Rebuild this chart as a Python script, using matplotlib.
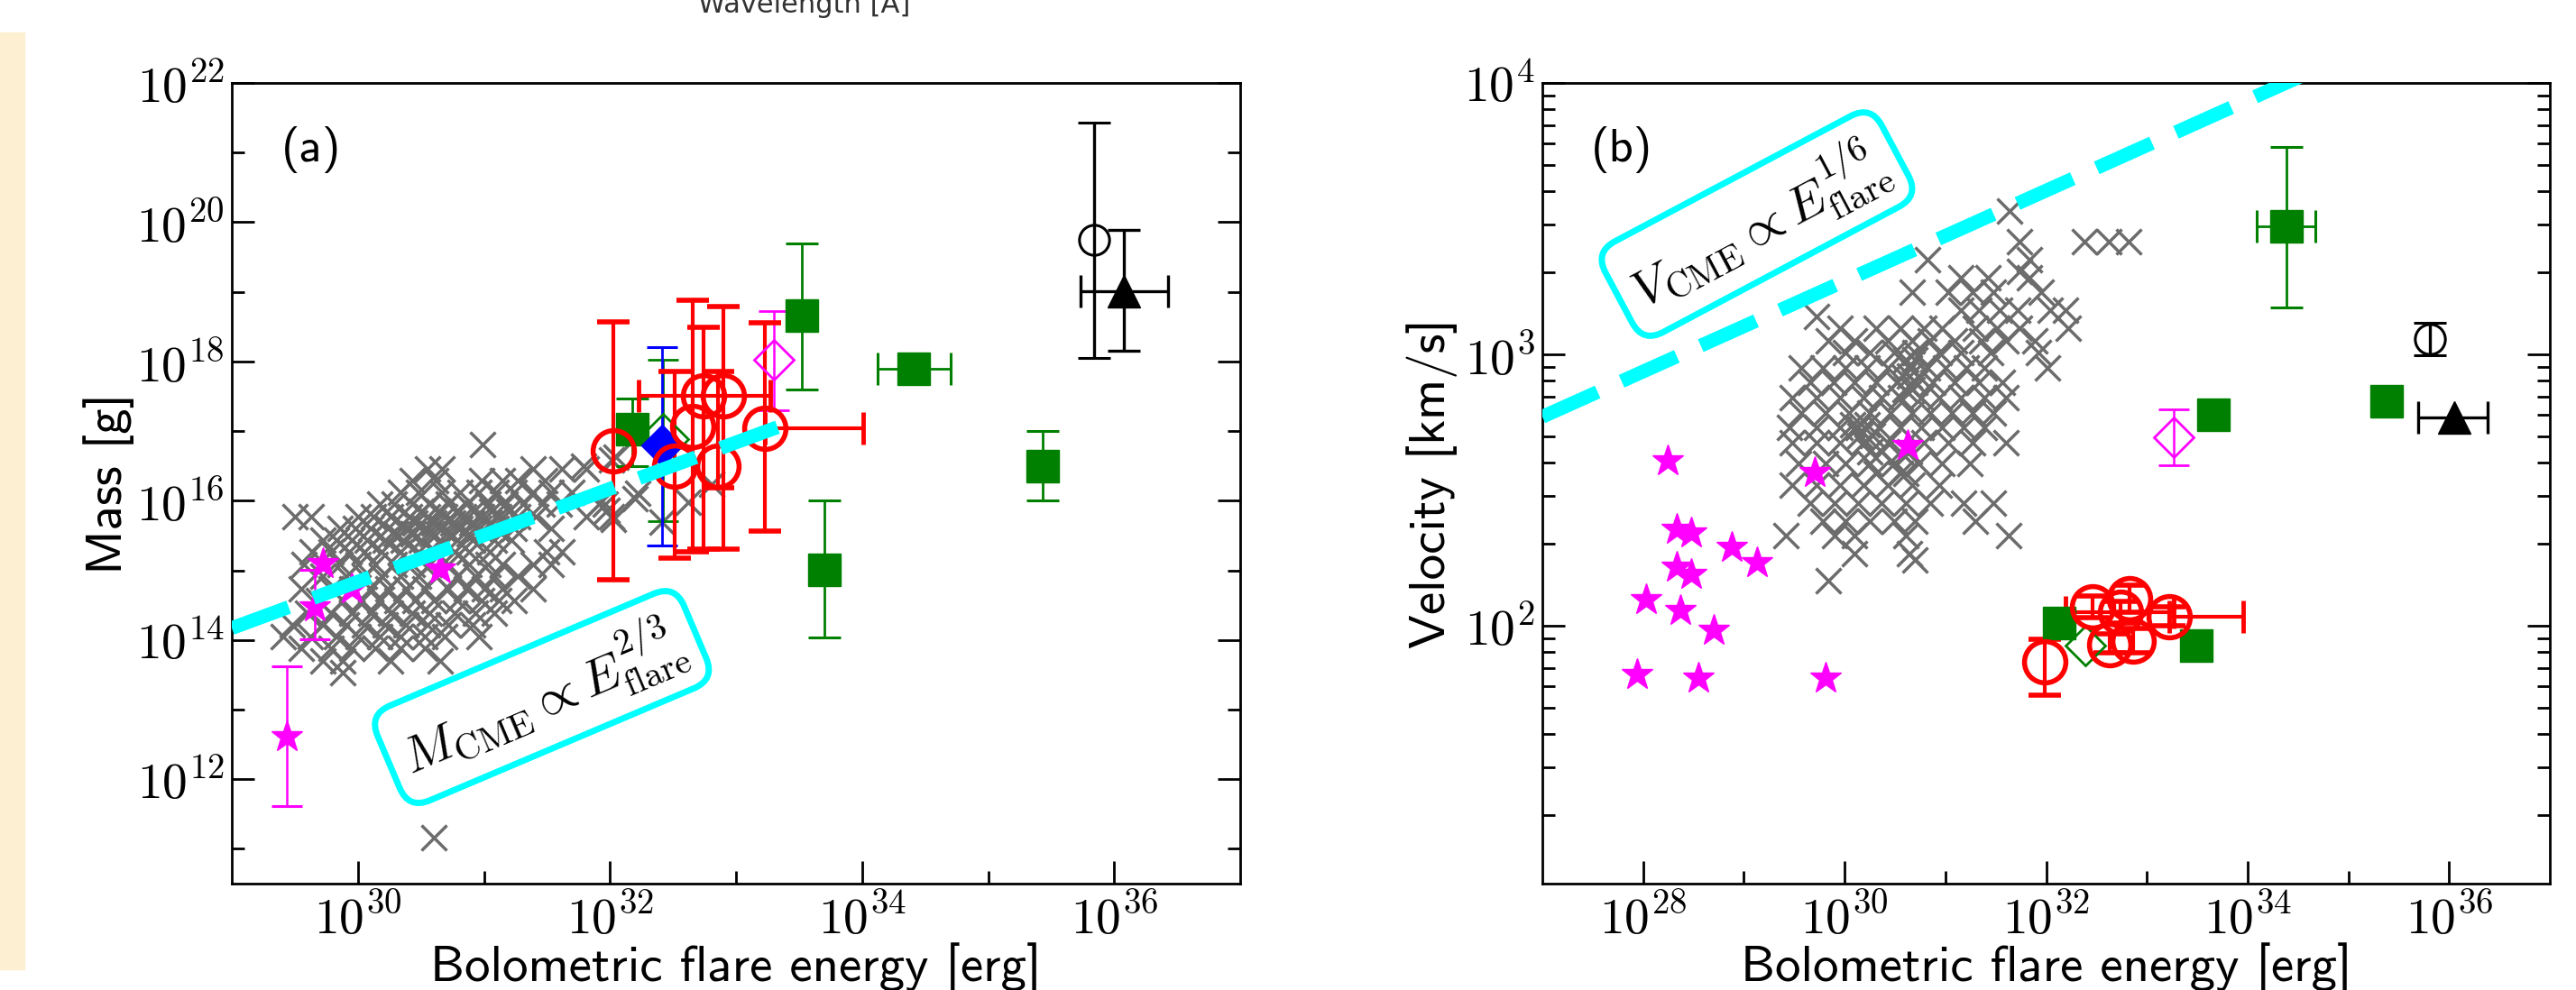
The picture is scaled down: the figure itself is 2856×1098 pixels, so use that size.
import numpy as np
import matplotlib
matplotlib.use('Agg')
import matplotlib.pyplot as plt
from matplotlib.patches import Rectangle
from matplotlib.ticker import NullFormatter

plt.rcParams['mathtext.fontset'] = 'cm'
plt.rcParams['font.family'] = ['cmss10', 'DejaVu Sans']
plt.rcParams['axes.unicode_minus'] = False

# ---------------- data (log10 units) ----------------
# panel (a) gray sample: rows of (log M, [log E ...])
gray_a_rows = [
    (16.81, [30.99]),
    (16.46, [30.55, 30.67, 31.39, 31.62, 31.81]),
    (16.29, [30.43, 30.62, 30.98, 31.15, 31.27, 31.48]),
    (16.12, [30.34, 30.48, 30.67, 30.81, 30.96, 31.10, 31.24, 31.39, 31.53, 31.70]),
    (15.95, [30.17, 30.29, 30.43, 30.57, 30.72, 30.86, 31.03, 31.17, 31.31, 31.46, 31.60, 31.96]),
    (15.85, [30.50, 30.64, 30.78, 30.92, 31.06, 31.20]),
    (15.77, [29.50, 29.63, 30.00, 30.12, 30.26, 30.41, 30.55, 30.69, 30.84, 30.98, 31.12, 31.27, 31.41, 31.81, 32.01]),
    (15.68, [30.45, 30.60, 30.75, 30.90, 31.05]),
    (15.60, [29.86, 29.98, 30.10, 30.24, 30.38, 30.53, 30.67, 30.81, 30.96, 31.10, 31.24, 31.53]),
    (15.52, [30.30, 30.44, 30.59, 30.74, 30.88]),
    (15.43, [29.72, 29.83, 29.95, 30.07, 30.22, 30.36, 30.50, 30.65, 30.79, 30.91, 31.08, 31.22]),
    (15.26, [29.64, 29.79, 29.93, 30.05, 30.19, 30.34, 30.48, 30.62, 30.77, 30.88, 31.05, 31.50, 31.62]),
    (15.08, [29.57, 29.86, 30.00, 30.14, 30.29, 30.43, 30.57, 30.72, 30.88, 31.03, 31.15, 31.39, 31.53]),
    (14.91, [29.72, 29.91, 30.05, 30.19, 30.34, 30.48, 30.62, 30.79, 30.93, 31.08, 31.27]),
    (14.74, [29.55, 29.79, 29.95, 30.10, 30.24, 30.38, 30.53, 30.72, 30.86, 31.00, 31.15, 31.39]),
    (14.57, [29.69, 29.88, 30.03, 30.17, 30.31, 30.45, 30.60, 30.79, 30.98, 31.12, 31.24]),
    (14.39, [29.60, 29.79, 29.95, 30.10, 30.26, 30.43, 30.57, 30.77, 30.93, 31.08]),
    (14.22, [29.48, 29.72, 29.91, 30.05, 30.22, 30.38, 30.55, 30.72, 30.91]),
    (14.05, [29.41, 29.62, 29.83, 30.00, 30.17, 30.34, 30.53, 30.69, 30.96]),
    (13.88, [29.55, 29.79, 29.95, 30.14, 30.34, 30.53]),
    (13.70, [29.72, 29.88, 30.26, 30.65]),
    (13.53, [29.88]),
]
gray_a_extra_E = [32.05, 31.98, 32.03, 31.91, 32.41, 32.62, 32.81, 32.22, 31.79, 32.01, 32.20, 30.60]
gray_a_extra_M = [16.63, 15.86, 15.73, 15.95, 15.69, 15.98, 16.24, 16.11, 16.50, 16.59, 16.03, 11.16]

# panel (b) gray sample: rows of (log V, [log E ...])
gray_b_rows = [
    (3.527, [31.64]),
    (3.415, [31.74, 32.38, 32.62, 32.82]),
    (3.350, [30.82, 31.83]),
    (3.305, [31.74]),
    (3.283, [31.15, 31.42, 31.83]),
    (3.228, [30.67, 31.03, 31.27, 31.48, 31.95]),
    (3.162, [31.15, 31.33, 31.54, 31.72, 32.04, 32.19]),
    (3.139, [29.72]),
    (3.095, [29.95, 30.31, 30.55, 30.79, 30.97, 31.30, 31.51, 31.74, 32.22]),
    (3.051, [29.84, 30.10, 30.43, 30.67, 30.85, 31.09, 31.36, 31.60, 31.89]),
    (3.007, [30.01, 30.25, 30.49, 30.70, 30.94, 31.15, 31.45, 31.92]),
    (2.980, [30.61, 30.70]),
    (2.951, [29.57, 29.78, 30.01, 30.22, 30.43, 30.64, 30.82, 31.00, 31.21, 31.39, 32.01]),
    (2.920, [30.58, 30.64, 30.73]),
    (2.896, [29.66, 29.89, 30.10, 30.31, 30.52, 30.70, 30.88, 31.09, 31.33, 31.57]),
    (2.870, [30.60, 30.67]),
    (2.840, [29.48, 29.72, 29.95, 30.19, 30.37, 30.55, 30.76, 30.94, 31.15, 31.39, 31.60]),
    (2.785, [29.57, 29.81, 30.04, 30.25, 30.46, 30.67, 30.85, 31.06, 31.27, 31.48]),
    (2.740, [30.08, 30.22]),
    (2.730, [29.45, 29.72, 29.95, 30.13, 30.34, 30.55, 30.76, 30.97, 31.18, 31.39]),
    (2.700, [30.15, 30.28]),
    (2.675, [29.48, 29.72, 29.95, 30.19, 30.43, 30.79, 31.03, 31.27, 31.60]),
    (2.640, [30.25, 30.37, 30.55, 30.64]),
    (2.597, [29.54, 29.81, 30.01, 30.25, 30.49, 30.73, 30.97, 31.24]),
    (2.560, [30.31, 30.55, 30.61]),
    (2.520, [29.48, 29.72, 29.95, 30.19, 30.43, 30.67, 30.94]),
    (2.453, [29.66, 29.90, 30.13, 30.37, 30.61, 30.85, 31.18, 31.48]),
    (2.387, [29.78, 30.01, 30.25, 30.49, 30.70, 31.30]),
    (2.331, [29.42, 29.90, 30.10, 30.61, 31.63]),
    (2.265, [30.10, 30.64]),
    (2.243, [30.70]),
    (2.165, [29.84]),
]

# magenta stars
star_a_E = [29.72, 30.65, 29.95]
star_a_M = [15.10, 15.02, 14.74]
star_a_err_E = [29.66, 29.44]
star_a_err_M = [14.48, 12.61]
star_a_err_Mlo = [14.01, 11.61]
star_a_err_Mhi = [15.01, 13.62]
star_b_E = [28.24, 28.33, 28.48, 28.88, 29.13, 28.33, 28.48, 28.03, 28.37, 28.70, 27.94, 28.55, 29.81, 29.70, 30.63]
star_b_V = [2.608, 2.354, 2.343, 2.289, 2.234, 2.215, 2.188, 2.097, 2.058, 1.983, 1.822, 1.809, 1.809, 2.566, 2.666]

# red open circles
red_a_E = [32.03, 32.51, 32.66, 32.74, 32.90, 32.86, 33.23]
red_a_M = [16.72, 16.50, 17.07, 17.50, 17.50, 16.50, 17.04]
red_a_Mlo = [14.87, 15.17, 15.27, 15.30, 15.30, 16.18, 15.56]
red_a_Mhi = [18.57, 17.86, 18.88, 18.49, 18.79, 17.86, 18.55]
red_a_Elo = [32.03, 32.51, 32.66, 32.23, 32.90, 32.86, 33.23]
red_a_Ehi = [32.03, 32.51, 32.66, 33.27, 32.90, 32.86, 34.01]
red_b_E = [31.99, 32.46, 32.63, 32.74, 32.83, 32.86, 33.22]
red_b_V = [1.868, 2.071, 1.932, 2.050, 2.099, 1.944, 2.032]
red_b_Vlo = [1.744, 2.03, 1.90, 2.01, 2.05, 1.90, 2.00]
red_b_Vhi = [1.95, 2.11, 1.97, 2.09, 2.15, 1.99, 2.07]
red_b_Elo = [31.99, 32.46, 32.63, 32.19, 32.83, 32.86, 33.22]
red_b_Ehi = [31.99, 32.46, 32.63, 33.27, 32.83, 32.86, 33.96]

# green filled squares
gsq_a_E = [32.18, 33.52, 34.41, 35.43, 33.70]
gsq_a_M = [17.03, 18.66, 17.90, 16.50, 15.01]
gsq_a_Mlo = [16.50, 17.60, 17.90, 16.01, 14.04]
gsq_a_Mhi = [17.47, 19.70, 17.90, 17.00, 16.01]
gsq_a_Elo = [32.18, 33.52, 34.12, 35.43, 33.70]
gsq_a_Ehi = [32.18, 33.52, 34.70, 35.43, 33.70]
gsq_b_E = [32.13, 33.49, 33.66, 35.38, 34.39]
gsq_b_V = [2.010, 1.927, 2.777, 2.827, 3.472]
gsq_b_Vlo = [1.99, 1.91, 2.757, 2.807, 3.173]
gsq_b_Vhi = [2.03, 1.945, 2.797, 2.847, 3.764]
gsq_b_Elo = [32.13, 33.49, 33.66, 35.38, 34.09]
gsq_b_Ehi = [32.13, 33.49, 33.66, 35.38, 34.67]

# other single objects: (logE, logY, lo, hi)
gdia_a = (32.42, 16.89, 15.71, 18.02)
gdia_b = (32.39, 1.927)
bdia_a = (32.41, 16.79, 15.35, 18.20)
mdia_a = (33.30, 18.02, 17.30, 18.73)
mdia_b = (33.27, 2.694, 2.591, 2.799)
bcirc_a = (35.84, 19.75, 18.05, 21.43)
bcirc_b = (35.81, 3.057, 2.997, 3.116)
btri_a = (36.08, 19.01, 18.16, 19.89, 35.73, 36.43)
btri_b = (36.05, 2.767, 2.767, 2.767, 35.69, 36.38)

# scaling relations (normalisation at E = 1e29 / 1e27, exponent)
fitA_E0, fitA_logM0, fitA_exp, fitA_Eend = 29.0, 14.17, 2.0 / 3.0, 33.52
fitB_E0, fitB_logV0, fitB_exp, fitB_Eend = 27.0, 2.77, 1.0 / 6.0, 34.6

xt_a = [30, 32, 34, 36]
yt_a = [12, 14, 16, 18, 20, 22]
xt_b = [28, 30, 32, 34, 36]
yt_b = [2, 3, 4]

# ---------------- figure ----------------
W, H = 2856, 1098
fig = plt.figure(figsize=(W / 100, H / 100), dpi=100)
fig.patches.append(Rectangle((0, 1 - 1075 / H), 27 / W, (1075 - 36) / H,
                             transform=fig.transFigure, color='#fdf0d2', zorder=0))
fig.text(892 / W, 1 - 3 / H, 'Wavelength [Å]', ha='center', va='center', fontsize=22,
         color='#333333', family=['DejaVu Sans'])

axA = fig.add_axes([257 / W, 1 - 980 / H, 1118 / W, 888 / H])
axB = fig.add_axes([1710 / W, 1 - 980 / H, 1117 / W, 888 / H])

GRAY = '#6c6c6c'
CYAN = '#00ffff'
XMS, XMEW = 20, 2.5
STMS = 26


def flat(rows):
    e = [v for y, es in rows for v in es]
    y = [y for y, es in rows for v in es]
    return np.array(e), np.array(y)


def eb(ax, E, Y, Ylo=None, Yhi=None, Elo=None, Ehi=None, z=4, **kw):
    E = np.atleast_1d(np.asarray(E, float))
    Y = np.atleast_1d(np.asarray(Y, float))
    x, y = 10 ** E, 10 ** Y
    yerr = None
    if Ylo is not None:
        yerr = [y - 10 ** np.atleast_1d(Ylo), 10 ** np.atleast_1d(Yhi) - y]
    ax.errorbar(x, y, yerr=yerr, linestyle='none', zorder=z, **kw)
    if Elo is not None:
        Elo = np.atleast_1d(np.asarray(Elo, float))
        Ehi = np.atleast_1d(np.asarray(Ehi, float))
        m = (Ehi - Elo) > 0
        if m.any():
            xerr = [x[m] - 10 ** Elo[m], 10 ** Ehi[m] - x[m]]
            kk = {k: v for k, v in kw.items() if k in ('ecolor', 'elinewidth', 'capsize', 'capthick', 'color')}
            ax.errorbar(x[m], y[m], xerr=xerr, linestyle='none', marker='none', zorder=z, **kk)


# ---------- panel (a) ----------
ea, ma = flat(gray_a_rows)
axA.plot(10 ** ea, 10 ** ma, 'x', color=GRAY, ms=XMS, mew=XMEW, zorder=2)
axA.plot(10 ** np.array(gray_a_extra_E), 10 ** np.array(gray_a_extra_M), 'x', color=GRAY, ms=XMS, mew=XMEW, zorder=2)
axA.plot(10 ** np.array(star_a_E), 10 ** np.array(star_a_M), '*', color='#ff00ff', ms=STMS, zorder=3)
eb(axA, star_a_err_E, star_a_err_M, star_a_err_Mlo, star_a_err_Mhi, z=3, marker='*', color='#ff00ff',
   ms=STMS, elinewidth=1.8, capsize=12, capthick=2.2)

eb(axA, gsq_a_E, gsq_a_M, gsq_a_Mlo, gsq_a_Mhi, gsq_a_Elo, gsq_a_Ehi, marker='s', color='#008000',
   ms=26, elinewidth=2.0, capsize=13, capthick=2.2)
eb(axA, gdia_a[0], gdia_a[1], gdia_a[2], gdia_a[3], marker='D', mfc='none', mec='#008000', mew=2,
   color='#008000', ms=29, elinewidth=2.0, capsize=12, capthick=2.2)
eb(axA, bdia_a[0], bdia_a[1], bdia_a[2], bdia_a[3], marker='D', color='#0000ff', ms=23,
   elinewidth=2.0, capsize=12, capthick=2.2)
eb(axA, mdia_a[0], mdia_a[1], mdia_a[2], mdia_a[3], marker='D', mfc='none', mec='#ff00ff', mew=2,
   color='#ff00ff', ms=22, elinewidth=1.8, capsize=12, capthick=2.2)
eb(axA, red_a_E, red_a_M, red_a_Mlo, red_a_Mhi, red_a_Elo, red_a_Ehi, marker='o', mfc='none',
   mec='red', mew=4.0, color='red', ms=33, elinewidth=3.0, capsize=13, capthick=3.5)
eb(axA, bcirc_a[0], bcirc_a[1], bcirc_a[2], bcirc_a[3], marker='o', mfc='none', mec='black', mew=2.2,
   color='black', ms=24, elinewidth=2.4, capsize=13, capthick=2.4)
eb(axA, btri_a[0], btri_a[1], btri_a[2], btri_a[3], [btri_a[4]], [btri_a[5]], marker='^', color='black',
   ms=26, elinewidth=2.4, capsize=13, capthick=2.4)

fa_E = np.array([fitA_E0, fitA_Eend])
fa_M = fitA_logM0 + fitA_exp * (fa_E - fitA_E0)
axA.plot(10 ** fa_E, 10 ** fa_M, color=CYAN, lw=11, dashes=(4.4, 1.9), solid_capstyle='butt',
         dash_capstyle='butt', zorder=6)
axA.text(10 ** 31.46, 10 ** 13.18, r'$M_{\rm CME} \propto E_{\rm flare}^{2/3}$', fontsize=41,
         rotation=23, ha='center', va='center', rotation_mode='anchor', zorder=7,
         bbox=dict(boxstyle='round,pad=0.3,rounding_size=0.45', fc='none', ec=CYAN, lw=5))

# ---------- panel (b) ----------
eb_, vb = flat(gray_b_rows)
axB.plot(10 ** eb_, 10 ** vb, 'x', color=GRAY, ms=XMS, mew=XMEW, zorder=2)
axB.plot(10 ** np.array(star_b_E), 10 ** np.array(star_b_V), '*', color='#ff00ff', ms=STMS, zorder=3)
eb(axB, gsq_b_E, gsq_b_V, gsq_b_Vlo, gsq_b_Vhi, gsq_b_Elo, gsq_b_Ehi, marker='s', color='#008000',
   ms=26, elinewidth=2.0, capsize=13, capthick=2.2)
eb(axB, gdia_b[0], gdia_b[1], marker='D', mfc='none', mec='#008000', mew=2, color='#008000', ms=22)
eb(axB, mdia_b[0], mdia_b[1], mdia_b[2], mdia_b[3], marker='D', mfc='none', mec='#ff00ff', mew=2,
   color='#ff00ff', ms=22, elinewidth=1.8, capsize=12, capthick=2.2)
eb(axB, red_b_E, red_b_V, red_b_Vlo, red_b_Vhi, red_b_Elo, red_b_Ehi, marker='o', mfc='none',
   mec='red', mew=4.0, color='red', ms=33, elinewidth=3.0, capsize=13, capthick=3.5)
eb(axB, bcirc_b[0], bcirc_b[1], bcirc_b[2], bcirc_b[3], marker='o', mfc='none', mec='black', mew=2.2,
   color='black', ms=24, elinewidth=2.4, capsize=13, capthick=2.4)
eb(axB, btri_b[0], btri_b[1], None, None, [btri_b[4]], [btri_b[5]], marker='^', color='black',
   ms=26, elinewidth=2.4, capsize=13, capthick=2.4)

fb_E = np.array([fitB_E0, fitB_Eend])
fb_V = fitB_logV0 + fitB_exp * (fb_E - fitB_E0)
axB.plot(10 ** fb_E, 10 ** fb_V, color=CYAN, lw=11, dashes=(4.4, 1.9), solid_capstyle='butt',
         dash_capstyle='butt', zorder=6)
axB.text(10 ** 29.13, 10 ** 3.48, r'$V_{\rm CME} \propto E_{\rm flare}^{1/6}$', fontsize=41,
         rotation=28, ha='center', va='center', rotation_mode='anchor', zorder=7,
         bbox=dict(boxstyle='round,pad=0.3,rounding_size=0.45', fc='none', ec=CYAN, lw=5))

# ---------- axes styling ----------
def style(ax, xlim, ylim, xt, xminor, yt, yminor, ylabel, ylab_x, panel):
    ax.set_xscale('log')
    ax.set_yscale('log')
    ax.set_xlim(*xlim)
    ax.set_ylim(*ylim)
    ax.set_xticks([10.0 ** t for t in xt])
    ax.set_xticklabels([r'$10^{%d}$' % t for t in xt])
    ax.set_xticks(xminor, minor=True)
    ax.set_yticks([10.0 ** t for t in yt])
    ax.set_yticklabels([r'$10^{%d}$' % t for t in yt])
    ax.set_yticks(yminor, minor=True)
    ax.xaxis.set_minor_formatter(NullFormatter())
    ax.yaxis.set_minor_formatter(NullFormatter())
    ax.tick_params(which='both', direction='in', top=False, right=True, width=2, labelsize=40)
    ax.tick_params(which='major', length=18)
    ax.tick_params(which='minor', length=10)
    ax.tick_params(axis='x', pad=8)
    ax.tick_params(axis='y', pad=6)
    for s in ax.spines.values():
        s.set_linewidth(2)
    ax.set_xlabel('Bolometric flare energy [erg]', fontsize=41, family=['cmss10', 'DejaVu Sans'])
    ax.xaxis.set_label_coords(0.5, -0.073)
    ax.set_ylabel(ylabel, fontsize=41, family=['cmss10', 'DejaVu Sans'])
    ax.yaxis.set_label_coords(ylab_x, 0.5)
    ax.text(0.079, 0.917, panel, transform=ax.transAxes, ha='center', va='center', fontsize=38,
            family=['cmss10', 'DejaVu Sans'])


style(axA, (1e29, 1e37), (10 ** 10.5, 1e22), xt_a, [1e31, 1e33, 1e35], yt_a,
      [10.0 ** k for k in (11, 13, 15, 17, 19, 21)], 'Mass [g]', -0.097, '(a)')
yminor_b = [m * 10.0 ** k for k in (1, 2, 3) for m in range(2, 10) if m * 10.0 ** k > 10 ** 1.05]
style(axB, (1e27, 1e37), (10 ** 1.05, 1e4), xt_b, [1e29, 1e31, 1e33, 1e35], yt_b,
      yminor_b, 'Velocity [km/s]', -0.084, '(b)')

fig.savefig('out.png', dpi=100)
